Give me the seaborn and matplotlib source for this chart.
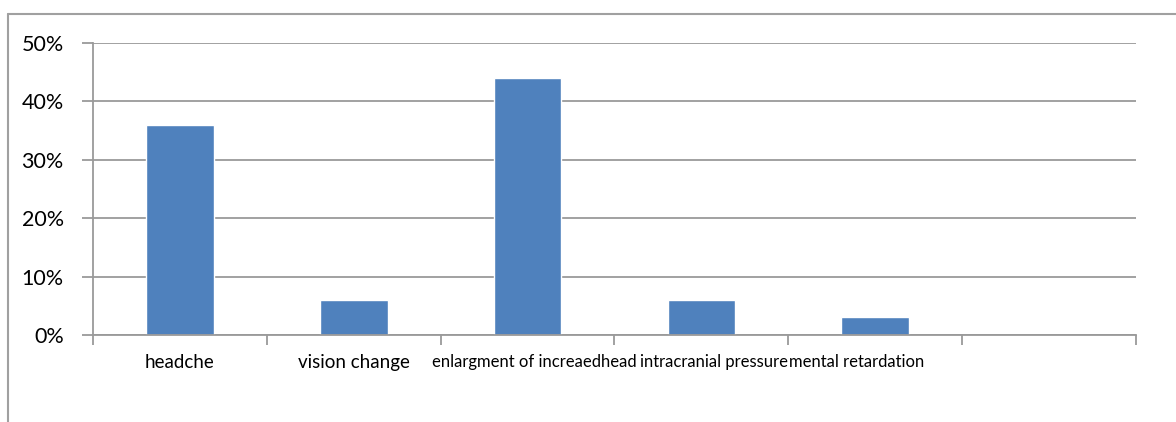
import matplotlib
matplotlib.use("Agg")
import matplotlib.pyplot as plt
from matplotlib.lines import Line2D
from matplotlib.ticker import PercentFormatter, FixedLocator
from matplotlib.transforms import ScaledTranslation
import seaborn as sns
import pandas as pd

categories = ["headche", "vision change", "enlargment of increaedhead",
              "intracranial pressure", "mental retardation"]
values = [0.36, 0.06, 0.44, 0.06, 0.03]
slots = categories + [" "]  # trailing empty category slot
y_ticks = [0.0, 0.1, 0.2, 0.3, 0.4, 0.5]

sns.set_theme(style="white")
plt.rcParams["font.family"] = ["Lato", "DejaVu Sans"]

df = pd.DataFrame({"symptom": categories, "share": values})

fig = plt.figure(figsize=(11.76, 4.22), dpi=100)
ax = fig.add_axes([93 / 1176, 1 - 335 / 422, (1136 - 93) / 1176, (335 - 43) / 422])

sns.barplot(data=df, x="symptom", y="share", order=slots, color="#4F81BD",
            saturation=1, width=0.39, ax=ax)

grid_col = "#9a9a9a"
ax.set_ylim(0, 0.5)
ax.set_xlim(-0.5, len(slots) - 0.5)
ax.set_yticks(y_ticks)
ax.yaxis.set_major_formatter(PercentFormatter(1.0, decimals=0))
ax.yaxis.grid(True, color=grid_col, linewidth=1.3)
ax.set_axisbelow(True)
ax.tick_params(axis="y", which="major", length=8, width=1.3, color=grid_col,
               direction="out", left=True, labelsize=15.5, pad=13, labelcolor="black")

# category labels on centres, tick marks on slot boundaries
ax.set_xticks(range(len(slots)))
ax.set_xticklabels(slots)
ax.xaxis.set_minor_locator(FixedLocator([i - 0.5 for i in range(len(slots) + 1)]))
ax.tick_params(axis="x", which="major", length=0, pad=14)
ax.tick_params(axis="x", which="minor", length=7, width=1.3, color=grid_col,
               direction="out", bottom=True)

# long labels are set smaller and run together as one line
shift_px = [0, 0, 7, 13, -19, 0]
for i, lab in enumerate(ax.get_xticklabels()):
    lab.set_color("black")
    if i < 2:
        lab.set_fontsize(13.5)
    else:
        lab.set_fontsize(12)
        lab.set_transform(lab.get_transform()
                          + ScaledTranslation(shift_px[i] / 100, 0, fig.dpi_scale_trans))

ax.set_xlabel("")
ax.set_ylabel("")
for side in ["top", "right"]:
    ax.spines[side].set_visible(False)
for side in ["left", "bottom"]:
    ax.spines[side].set_color(grid_col)
    ax.spines[side].set_linewidth(1.3)

# outer chart frame
fig.add_artist(Line2D([8 / 1176, 1.0], [1 - 14 / 422] * 2, color="#a0a0a0",
                      linewidth=1.5, transform=fig.transFigure))
fig.add_artist(Line2D([8 / 1176] * 2, [0.0, 1 - 14 / 422], color="#a0a0a0",
                      linewidth=1.5, transform=fig.transFigure))

fig.savefig("out.png", dpi=100, facecolor="white")
